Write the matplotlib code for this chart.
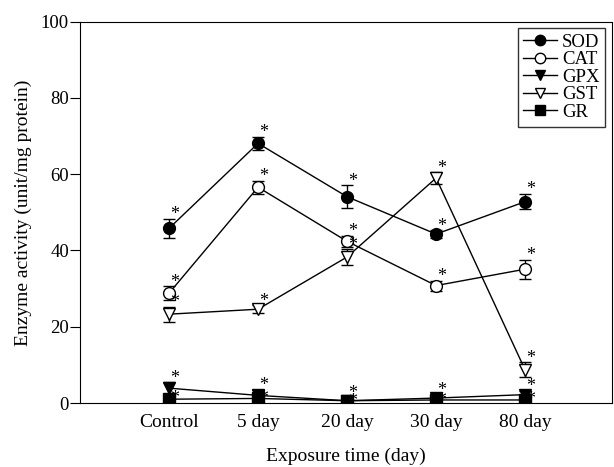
import matplotlib
matplotlib.use("Agg")
import matplotlib.pyplot as plt
from matplotlib.lines import Line2D
import numpy as np

plt.rcParams['font.family'] = ['Liberation Serif', 'DejaVu Serif']

categories = ['Control', '5 day', '20 day', '30 day', '80 day']

sod = [45.8, 68.1, 54.1, 44.3, 52.8]
sod_err = [2.5, 1.7, 3.0, 1.0, 2.0]
cat = [28.8, 56.6, 42.4, 30.8, 35.1]
cat_err = [1.8, 1.7, 1.5, 1.3, 2.5]
gpx = [3.9, 2.0, 0.6, 1.3, 2.2]
gpx_err = [1.5, 1.5, 0.8, 0.8, 1.0]
gst = [23.3, 24.6, 38.3, 59.0, 8.7]
gst_err = [2.0, 1.0, 2.0, 1.5, 2.0]
gr = [1.0, 1.2, 0.6, 0.8, 0.8]
gr_err = [0.8, 0.8, 0.6, 0.6, 0.8]

series = [
    ('SOD', sod, sod_err, 'o', 'black'),
    ('CAT', cat, cat_err, 'o', 'white'),
    ('GPX', gpx, gpx_err, 'v', 'black'),
    ('GST', gst, gst_err, 'v', 'white'),
    ('GR', gr, gr_err, 's', 'black'),
]

fig = plt.figure(figsize=(6.14, 4.67), dpi=100)
ax = fig.add_axes([0.1303, 0.137, 0.867, 0.8165])

x = np.arange(len(categories))
handles = []
for k, (name, vals, errs, mk, fc) in enumerate(series):
    ax.errorbar(x, vals, yerr=errs, marker=mk, markersize=8.5, markerfacecolor=fc,
                markeredgecolor='black', color='black', lw=1.0, elinewidth=1.0,
                capsize=4, capthick=1.0)
    handles.append(Line2D([], [], marker=mk, markersize=7.5, markerfacecolor=fc,
                          markeredgecolor='black', color='black', lw=1.0, label=name))
    # significance asterisks; the GR ones sit just under the GPX ones near zero
    dy = 3 if k < 4 else -2
    for xi, v, e in zip(x, vals, errs):
        ax.annotate('*', xy=(xi + 0.06, v + e), xytext=(0, dy), textcoords='offset points',
                    fontsize=13, ha='center', va='center')

ax.set_xlim(-1.0, 4.98)
ax.set_ylim(0, 100)
ax.set_xticks(x)
ax.set_xticklabels(categories, fontsize=14)
ax.tick_params(axis='x', length=0, pad=8)
ax.set_yticks([0, 20, 40, 60, 80, 100])
ax.tick_params(axis='y', direction='out', length=7, pad=1, labelsize=13.5)
ax.set_xlabel('Exposure time (day)', fontsize=14, labelpad=12)
ax.set_ylabel('Enzyme activity (unit/mg protein)', fontsize=14, labelpad=6)

leg = ax.legend(handles=handles, loc='upper right', fontsize=13.5, frameon=True,
                fancybox=False, edgecolor='black', handlelength=1.8,
                handletextpad=0.25, labelspacing=0.02, borderpad=0.3,
                borderaxespad=0, bbox_to_anchor=(0.986, 0.983))
leg.get_frame().set_linewidth(1.0)

plt.savefig('out.png', dpi=100)
